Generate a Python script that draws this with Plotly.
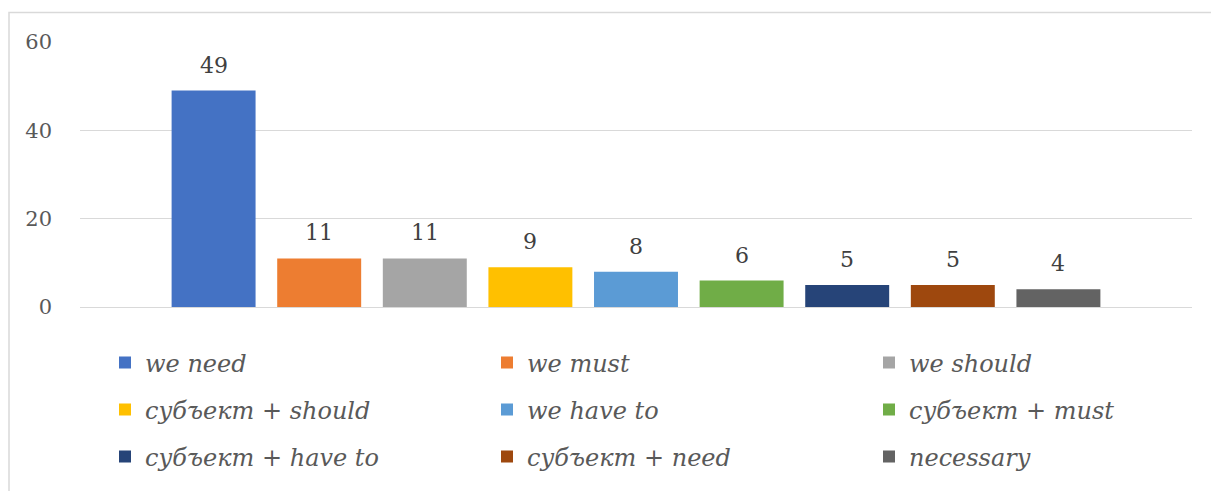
import plotly.graph_objects as go

series_names = ["we need", "we must", "we should",
                "субъект + should", "we have to", "субъект + must",
                "субъект + have to", "субъект + need", "necessary"]
series_values = [49, 11, 11, 9, 8, 6, 5, 5, 4]
series_colors = ["#4472C4", "#ED7D31", "#A5A5A5", "#FFC000", "#5B9BD5",
                 "#70AD47", "#264478", "#9E480E", "#636363"]
y_ticks = [0, 20, 40, 60]

FONT = "Liberation Serif, DejaVu Serif, serif"
W, H = 1211, 491
L, R, T, B = 80, 19, 42, 184
PW, PH = W - L - R, H - T - B

def px_to_paper_x(px):
    return (px - L) / PW

def px_to_paper_y(py):
    return (H - B - py) / PH

col_x = [105, 487, 869]   # legend column left edges (px)
row_y = [363, 410, 457]   # legend row centres (px)

fig = go.Figure()
legend_layout = {}
for i, (name, val, col) in enumerate(zip(series_names, series_values, series_colors)):
    lid = "legend" if i == 0 else f"legend{i + 1}"
    fig.add_trace(go.Bar(
        x=[name], y=[val], name=name, marker=dict(color=col, line=dict(width=0)),
        legend=lid, showlegend=True, hoverinfo="y+name",
    ))
    fig.add_annotation(x=name, y=val, text=str(val), showarrow=False,
                       yanchor="bottom", yshift=11,
                       font=dict(family="DejaVu Serif", size=22, color="#404040"))
    legend_layout[lid] = dict(
        x=px_to_paper_x(col_x[i % 3]), y=px_to_paper_y(row_y[i // 3]),
        orientation="h", xanchor="left", yanchor="middle", itemwidth=30,
        font=dict(family="DejaVu Serif", size=24, color="#595959", style="italic"),
        bgcolor="rgba(0,0,0,0)",
    )

fig.update_layout(
    width=W, height=H,
    margin=dict(l=L, r=R, t=T, b=B, autoexpand=False),
    paper_bgcolor="white", plot_bgcolor="white",
    font=dict(family="DejaVu Serif", color="#595959"),
    barmode="overlay", bargap=0.205,
    xaxis=dict(type="category", categoryorder="array", categoryarray=series_names,
               range=[-1.265, 9.265], showticklabels=False, showgrid=False,
               zeroline=False, showline=False, ticks=""),
    yaxis=dict(range=[0, 60], tickvals=y_ticks, showgrid=True, gridcolor="#D9D9D9",
               gridwidth=1, zeroline=True, zerolinecolor="#D9D9D9", zerolinewidth=1,
               showline=False, ticks="", ticklabelstandoff=27,
               tickfont=dict(family="DejaVu Serif", size=21, color="#595959")),
    shapes=[dict(type="rect", xref="paper", yref="paper",
                 x0=px_to_paper_x(9), x1=px_to_paper_x(1230),
                 y0=px_to_paper_y(510), y1=px_to_paper_y(12.5),
                 line=dict(color="#D9D9D9", width=1.5), layer="below")],
    showlegend=True,
    **legend_layout,
)

fig.write_html("out.html")
